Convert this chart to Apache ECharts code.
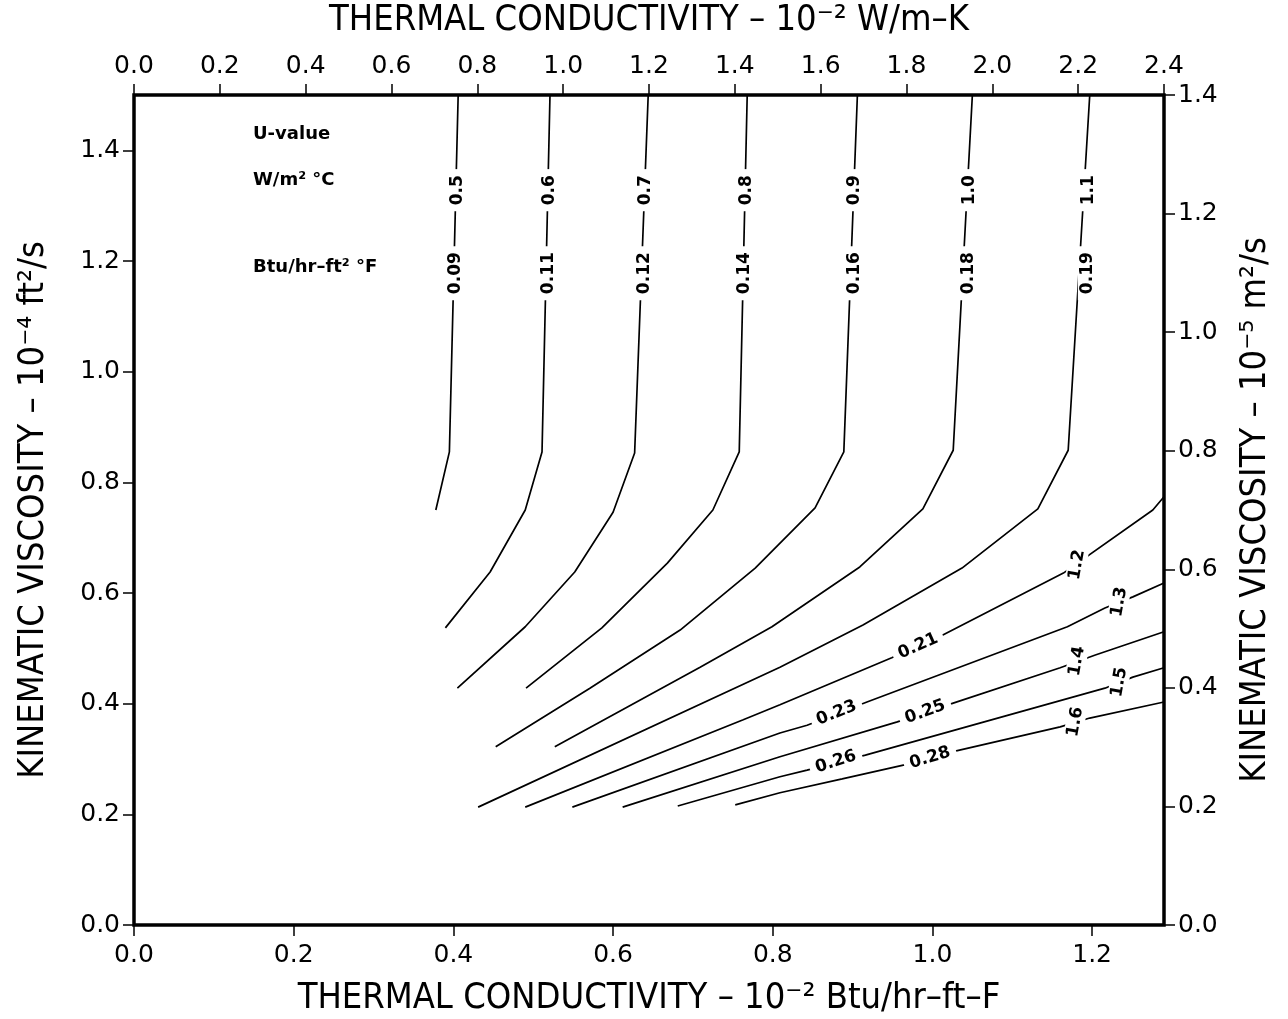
<!DOCTYPE html>
<html>
<head>
<meta charset="utf-8">
<title>U-value vs thermal conductivity and kinematic viscosity</title>
<script src="https://cdn.jsdelivr.net/npm/echarts@6/dist/echarts.min.js"></script>
<style>
  html, body { margin: 0; background: #fff; }
  #chart { width: 1288px; height: 1019px; }
</style>
</head>
<body>
<div id="chart"></div>
<script>
  // x: thermal conductivity, 10^-2 Btu/hr-ft-F ; y: kinematic viscosity, 10^-4 ft2/s
  const bottomTicks = [0, 0.2, 0.4, 0.6, 0.8, 1.0, 1.2];
  const leftTicks = [0, 0.2, 0.4, 0.6, 0.8, 1.0, 1.2, 1.4];
  const topTicks = [0, 0.2, 0.4, 0.6, 0.8, 1.0, 1.2, 1.4, 1.6, 1.8, 2.0, 2.2, 2.4];
  const rightTicks = [0, 0.2, 0.4, 0.6, 0.8, 1.0, 1.2, 1.4];

  // U-value labels: W/m2 C and Btu/hr-ft2 F
  const uSI = ['0.5', '0.6', '0.7', '0.8', '0.9', '1.0', '1.1', '1.2', '1.3', '1.4', '1.5', '1.6'];
  const uIP = ['0.09', '0.11', '0.12', '0.14', '0.16', '0.18', '0.19', '0.21', '0.23', '0.25', '0.26', '0.28'];

  // contour lines
  const u05 = [[0.406, 1.5], [0.395, 0.855], [0.378, 0.75]];
  const u06 = [[0.521, 1.5], [0.511, 0.855], [0.490, 0.750], [0.446, 0.638], [0.390, 0.537]];
  const u07 = [[0.644, 1.5], [0.627, 0.853], [0.600, 0.746], [0.552, 0.638], [0.490, 0.539], [0.405, 0.428]];
  const u08 = [[0.768, 1.5], [0.758, 0.855], [0.725, 0.750], [0.668, 0.654], [0.586, 0.537], [0.491, 0.428]];
  const u09 = [[0.906, 1.5], [0.889, 0.855], [0.853, 0.754], [0.778, 0.645], [0.684, 0.533], [0.571, 0.428], [0.453, 0.322]];
  const u10 = [[1.050, 1.5], [1.026, 0.858], [0.988, 0.752], [0.909, 0.647], [0.799, 0.539], [0.709, 0.466], [0.527, 0.322]];
  const u11 = [[1.197, 1.5], [1.170, 0.858], [1.132, 0.752], [1.037, 0.645], [0.913, 0.542], [0.809, 0.466], [0.431, 0.213]];
  const u12 = [[1.29, 0.774], [1.276, 0.750], [1.164, 0.636], [1.013, 0.524], [0.949, 0.483], [0.809, 0.398], [0.763, 0.371], [0.490, 0.213]];
  const u13 = [[1.29, 0.618], [1.251, 0.593], [1.216, 0.573], [1.169, 0.539], [0.918, 0.403], [0.843, 0.361], [0.809, 0.347], [0.549, 0.213]];
  const u14 = [[1.29, 0.530], [1.204, 0.488], [1.160, 0.465], [1.026, 0.401], [0.956, 0.367], [0.809, 0.304], [0.612, 0.213]];
  const u15 = [[1.29, 0.465], [1.251, 0.448], [1.216, 0.428], [0.916, 0.307], [0.843, 0.280], [0.809, 0.268], [0.681, 0.215]];
  const u16 = [[1.29, 0.403], [1.197, 0.374], [1.160, 0.358], [1.019, 0.311], [0.976, 0.293], [0.887, 0.264], [0.809, 0.239], [0.753, 0.217]];
  const contours = [u05, u06, u07, u08, u09, u10, u11, u12, u13, u14, u15, u16];

  // where each pair of labels sits on its line
  const siLabelAt = [[0.405, 1.328], [0.520, 1.328], [0.641, 1.328], [0.767, 1.328], [0.903, 1.328], [1.046, 1.328], [1.195, 1.328],
    [1.181, 0.651], [1.234, 0.584], [1.181, 0.477], [1.234, 0.439], [1.179, 0.367]];
  const ipLabelAt = [[0.403, 1.178], [0.519, 1.178], [0.640, 1.178], [0.765, 1.178], [0.902, 1.178], [1.045, 1.178], [1.194, 1.178],
    [0.982, 0.504], [0.880, 0.383], [0.991, 0.385], [0.879, 0.295], [0.997, 0.302]];

  const siAngle = [90, 90, 90, 90, 90, 90, 90, 80, 80, 80, 80, 80];
  const ipAngle = [90, 90, 90, 90, 90, 90, 90, 24, 22, 20, 18, 17];

  const tickFont = { fontFamily: 'DejaVu Sans', fontSize: 25, color: '#000' };
  const titleFont = { fontFamily: "'Liberation Sans Narrow', 'DejaVu Sans Condensed', 'Liberation Sans', sans-serif", fontSize: 36, color: '#000' };
  const oneDec = (v) => Number(v).toFixed(1);

  const axisBase = (ticks, margin) => ({
    type: 'value',
    nameLocation: 'middle',
    nameTextStyle: titleFont,
    axisLine: { show: false, onZero: false },
    axisTick: { show: true, inside: false, length: 11, customValues: ticks, lineStyle: { color: '#000', width: 1.5 } },
    axisLabel: { customValues: ticks, formatter: oneDec, margin: margin, ...tickFont },
    splitLine: { show: false },
  });

  const labelData = [];
  uSI.forEach((t, i) => {
    labelData.push({ value: siLabelAt[i], name: t, label: { rotate: siAngle[i] } });
    labelData.push({ value: ipLabelAt[i], name: uIP[i], label: { rotate: ipAngle[i] } });
  });

  const series = contours.map((pts, i) => ({
    name: uSI[i],
    type: 'line',
    data: pts,
    showSymbol: false,
    silent: true,
    z: 2,
    lineStyle: { color: '#000', width: 1.7 },
  }));
  series.push({
    type: 'scatter',
    data: labelData,
    symbolSize: 1,
    itemStyle: { color: '#fff' },
    silent: true,
    z: 5,
    label: {
      show: true,
      position: 'inside',
      formatter: (p) => p.name,
      fontFamily: 'DejaVu Sans',
      fontWeight: 'bold',
      fontSize: 17,
      color: '#000',
      opacity: 1,
      textBorderColor: 'transparent',
      textBorderWidth: 0,
      backgroundColor: '#fff',
      padding: [1, 6],
    },
  });

  const option = {
    animation: false,
    backgroundColor: '#fff',
    grid: {
      left: 134, right: 124, top: 95, bottom: 94,
      outerBoundsMode: 'none',
      show: true, borderColor: '#000', borderWidth: 3.5,
    },
    xAxis: [
      {
        ...axisBase(bottomTicks, 18),
        position: 'bottom',
        min: 0,
        max: 1.29,
        name: 'THERMAL CONDUCTIVITY – 10⁻² Btu/hr–ft–F',
        nameGap: 56,
      },
      {
        ...axisBase(topTicks, 16),
        position: 'top',
        min: 0,
        max: 2.4,
        name: 'THERMAL CONDUCTIVITY – 10⁻² W/m–K',
        nameGap: 56,
      },
    ],
    yAxis: [
      {
        ...axisBase(leftTicks, 14),
        position: 'left',
        min: 0,
        max: 1.5,
        name: 'KINEMATIC VISCOSITY – 10⁻⁴ ft²/s',
        nameGap: 82,
      },
      {
        ...axisBase(rightTicks, 14),
        position: 'right',
        min: 0,
        max: 1.4,
        name: 'KINEMATIC VISCOSITY – 10⁻⁵ m²/s',
        nameGap: 74,
        nameRotate: 90,
      },
    ],
    graphic: [
      { type: 'text', left: 253, top: 125, style: { text: 'U-value', font: 'bold 18px "DejaVu Sans"', fill: '#000' } },
      { type: 'text', left: 253, top: 171, style: { text: 'W/m² °C', font: 'bold 18px "DejaVu Sans"', fill: '#000' } },
      { type: 'text', left: 253, top: 258, style: { text: 'Btu/hr–ft² °F', font: 'bold 18px "DejaVu Sans"', fill: '#000' } },
    ],
    series: series,
  };

  const chart = echarts.init(document.getElementById('chart'));
  chart.setOption(option);
</script>
</body>
</html>
